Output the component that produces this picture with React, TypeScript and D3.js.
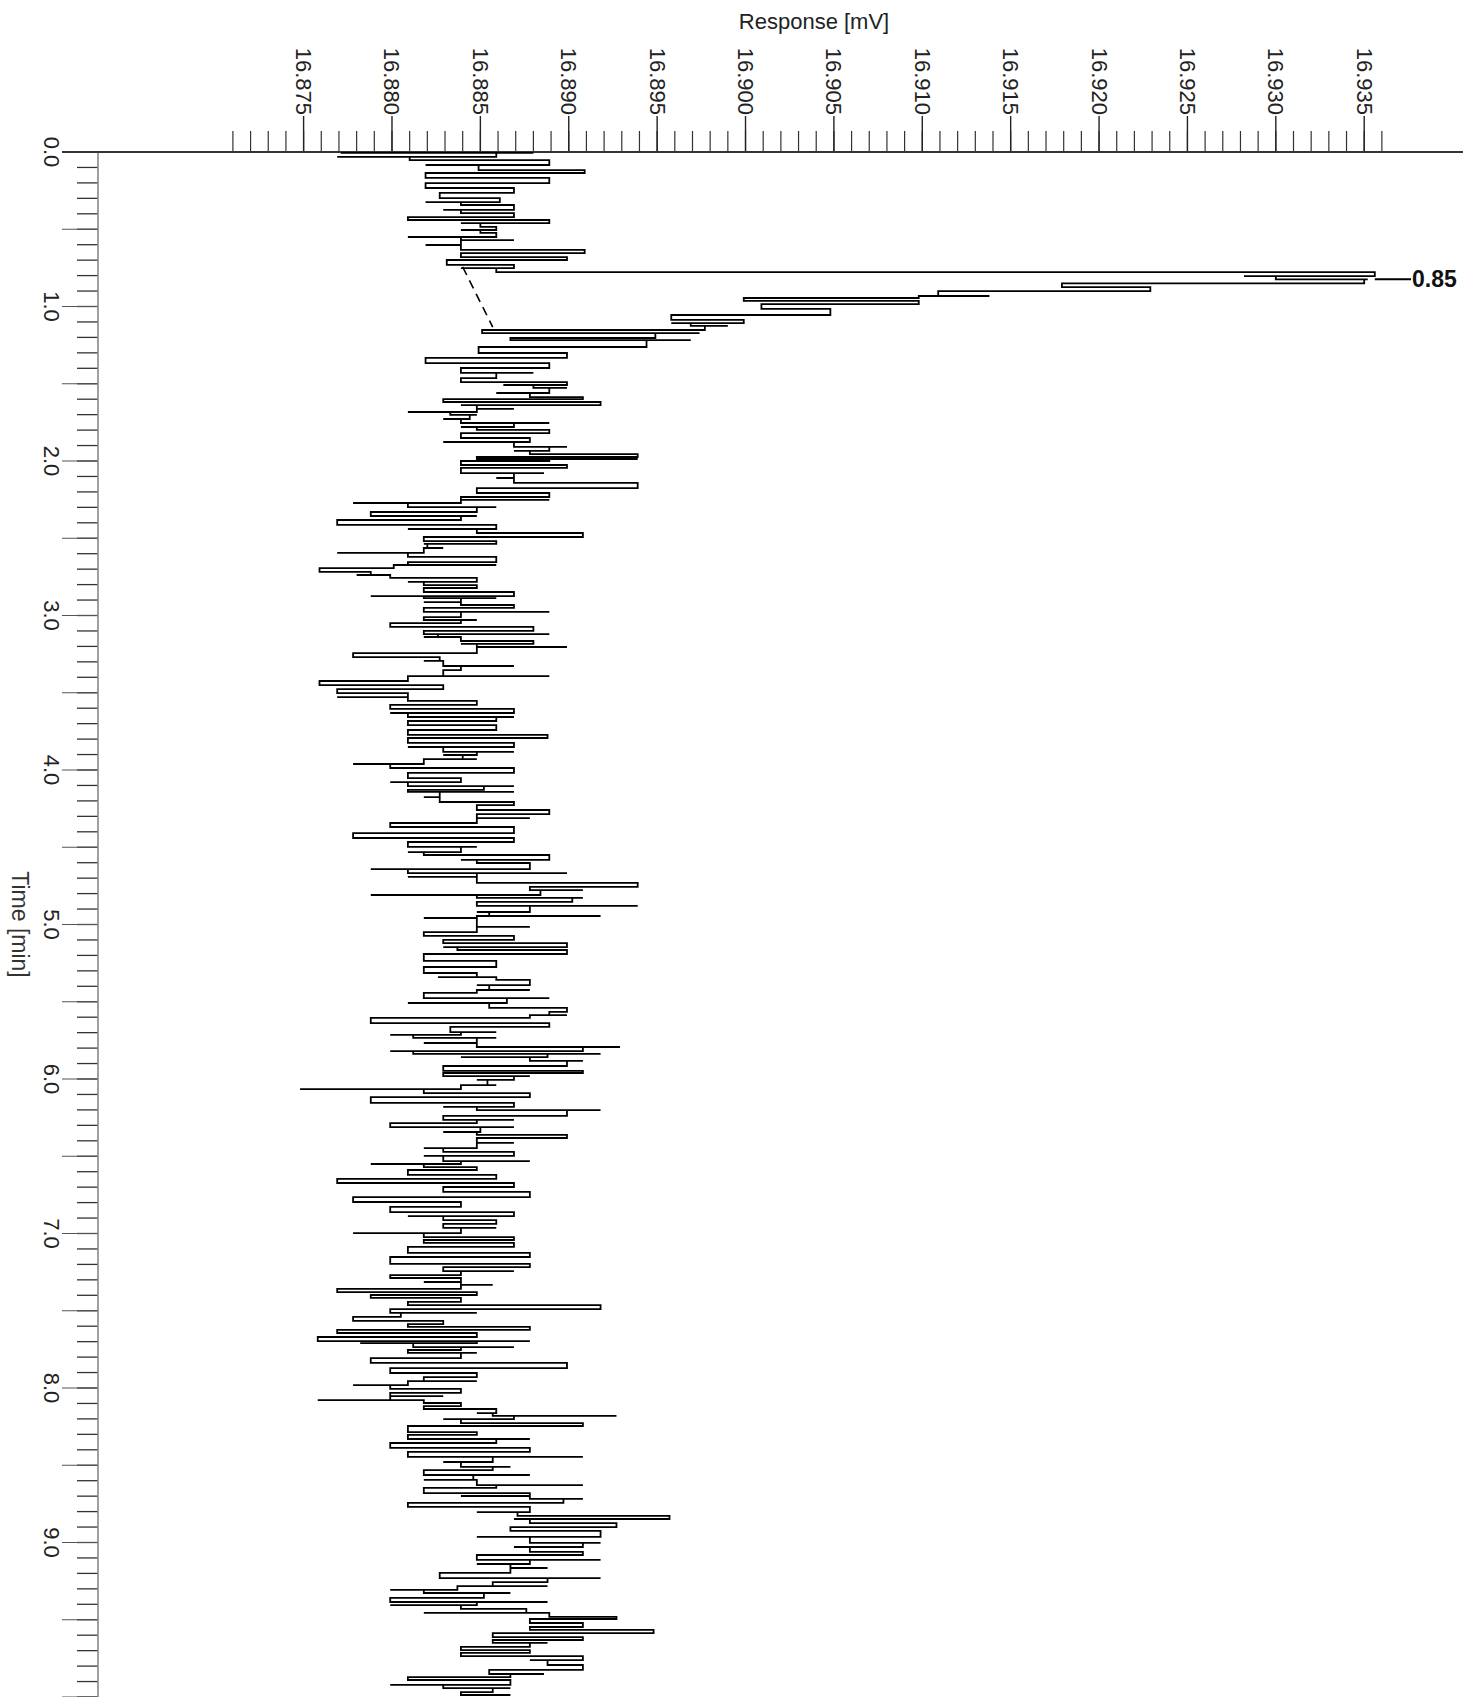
import React from "react";
import * as d3 from "d3";

const W = 1463;
const H = 1697;

// Axis ticks
const responseMajorTicks = [16.875, 16.88, 16.885, 16.89, 16.895, 16.9, 16.905, 16.91, 16.915, 16.92, 16.925, 16.93, 16.935];
const responseMajorLabels = ["16.875", "16.880", "16.885", "16.890", "16.895", "16.900", "16.905", "16.910", "16.915", "16.920", "16.925", "16.930", "16.935"];
const responseMinorTicks = d3.range(16871, 16937).map((v) => v / 1000);
const timeMinorTicks = d3.range(0, 101).map((v) => v / 10);
const timeMajorTicks = d3.range(0, 21).map((v) => v / 2);
const timeLabelValues = [0, 1, 2, 3, 4, 5, 6, 7, 8, 9];
const timeLabels = ["0.0", "1.0", "2.0", "3.0", "4.0", "5.0", "6.0", "7.0", "8.0", "9.0"];

// Peak annotation
const peakTime = 0.85;
const peakLabel = "0.85";
const peakValue = 16.9356;

// Dashed peak baseline [time, response]
const baselineStart: [number, number] = [0.744, 16.884];
const baselineEnd: [number, number] = [1.133, 16.8857];

// Trace rows: [time (min), left response, right response] (mV)
const traceEarly: [number, number, number][] = [
  [0.006, 16.8771, 16.888], [0.032, 16.8769, 16.8859], [0.052, 16.881, 16.8859], [0.084, 16.8819, 16.8889],
  [0.117, 16.8849, 16.8889], [0.136, 16.8859, 16.8909], [0.168, 16.8819, 16.888], [0.201, 16.8839, 16.8889],
  [0.233, 16.8819, 16.8869], [0.265, 16.8829, 16.8869], [0.298, 16.8827, 16.8847], [0.324, 16.8819, 16.8861],
  [0.343, 16.8839, 16.8869], [0.375, 16.8829, 16.8869], [0.395, 16.8839, 16.8869], [0.421, 16.8809, 16.8869],
  [0.44, 16.8809, 16.8869], [0.46, 16.8839, 16.8889], [0.485, 16.885, 16.8859], [0.505, 16.8839, 16.8859],
  [0.524, 16.885, 16.8859], [0.55, 16.8809, 16.8859], [0.57, 16.8839, 16.8869], [0.602, 16.8819, 16.8839],
  [0.634, 16.8839, 16.885], [0.654, 16.8839, 16.8909], [0.68, 16.8839, 16.8889], [0.699, 16.8843, 16.8899],
  [0.731, 16.8831, 16.8869], [0.751, 16.8839, 16.8869],
];

const tracePeak: [number, number, number][] = [
  [0.777, 16.8859, 16.9304], [0.803, 16.9282, 16.9356], [0.825, 16.93, 16.9352], [0.85, 16.9229, 16.935],
  [0.874, 16.9179, 16.922], [0.9, 16.9136, 16.9229], [0.932, 16.9109, 16.9138], [0.945, 16.9005, 16.9098],
  [0.964, 16.8999, 16.908], [0.984, 16.9024, 16.9098], [1.016, 16.9009, 16.9039], [1.055, 16.9008, 16.9048],
  [1.087, 16.8958, 16.899], [1.107, 16.8958, 16.8999], [1.126, 16.8969, 16.899], [1.152, 16.8918, 16.8977],
  [1.172, 16.8851, 16.8974], [1.204, 16.8918, 16.8949], [1.217, 16.8867, 16.8969], [1.262, 16.8918, 16.8944],
];

const traceA: [number, number, number][] = [
  [1.301, 16.8849, 16.8899], [1.333, 16.8867, 16.8899], [1.366, 16.8819, 16.8889], [1.398, 16.8839, 16.8889],
  [1.43, 16.8839, 16.888], [1.463, 16.8839, 16.8859], [1.489, 16.8839, 16.8863], [1.508, 16.8863, 16.8899],
  [1.527, 16.888, 16.8899], [1.56, 16.8859, 16.8889], [1.586, 16.8878, 16.8899], [1.599, 16.8869, 16.8908],
  [1.618, 16.8829, 16.8878], [1.638, 16.8839, 16.8918], [1.663, 16.8848, 16.8869], [1.683, 16.8809, 16.8848],
  [1.702, 16.8833, 16.8848], [1.728, 16.8829, 16.8844], [1.754, 16.8839, 16.8889], [1.78, 16.8839, 16.8869],
  [1.799, 16.8848, 16.8869], [1.819, 16.8848, 16.8889], [1.851, 16.8839, 16.8878], [1.877, 16.8829, 16.8878],
  [1.909, 16.8869, 16.8899], [1.935, 16.8869, 16.8889], [1.955, 16.8878, 16.8905], [1.974, 16.8878, 16.8939],
  [1.987, 16.8848, 16.8939], [2.0, 16.8848, 16.8889], [2.026, 16.8839, 16.8889], [2.045, 16.884, 16.8899],
  [2.078, 16.8839, 16.8886], [2.11, 16.8859, 16.8869], [2.142, 16.8869, 16.8908], [2.175, 16.8869, 16.8939],
  [2.207, 16.8848, 16.8889], [2.233, 16.8848, 16.8889], [2.252, 16.8839, 16.8889], [2.272, 16.8778, 16.8839],
  [2.298, 16.8809, 16.8859], [2.33, 16.8809, 16.8848], [2.356, 16.8788, 16.8848], [2.382, 16.8799, 16.8839],
  [2.414, 16.8769, 16.8839], [2.44, 16.8809, 16.8859], [2.466, 16.8848, 16.8889], [2.492, 16.8822, 16.8908],
  [2.518, 16.8818, 16.8859], [2.537, 16.8818, 16.8859], [2.563, 16.882, 16.8829], [2.595, 16.8769, 16.8818],
  [2.621, 16.8809, 16.8818], [2.654, 16.8809, 16.8859], [2.673, 16.8809, 16.8859], [2.693, 16.8759, 16.8801],
  [2.718, 16.8759, 16.8788], [2.738, 16.878, 16.8788], [2.757, 16.8799, 16.8848], [2.783, 16.8809, 16.8848],
  [2.803, 16.8818, 16.8848], [2.822, 16.8818, 16.8848], [2.848, 16.8818, 16.8839], [2.874, 16.8788, 16.8869],
  [2.887, 16.8818, 16.8859], [2.913, 16.8818, 16.8839], [2.932, 16.8839, 16.8869], [2.951, 16.8818, 16.8869],
  [2.977, 16.8818, 16.8889], [3.01, 16.8818, 16.8839], [3.029, 16.8818, 16.8848], [3.049, 16.8823, 16.8839],
  [3.074, 16.8799, 16.888], [3.1, 16.8859, 16.888], [3.12, 16.8818, 16.8889], [3.139, 16.8818, 16.8826],
  [3.165, 16.8839, 16.8848], [3.184, 16.8839, 16.888], [3.204, 16.8848, 16.8899], [3.243, 16.8809, 16.8848],
  [3.269, 16.8778, 16.8827], [3.294, 16.8818, 16.8827], [3.327, 16.8829, 16.8869], [3.353, 16.8829, 16.8839],
  [3.392, 16.8829, 16.8889], [3.424, 16.8788, 16.8809], [3.45, 16.8759, 16.8809], [3.476, 16.8809, 16.8829],
  [3.502, 16.8769, 16.8809], [3.528, 16.8769, 16.8809], [3.553, 16.8809, 16.8848], [3.579, 16.8799, 16.8848],
  [3.605, 16.8799, 16.8859], [3.631, 16.8799, 16.8869], [3.657, 16.8809, 16.8869], [3.683, 16.8829, 16.8859],
  [3.709, 16.8809, 16.8839], [3.741, 16.8829, 16.8859], [3.773, 16.8809, 16.8859], [3.793, 16.8839, 16.8888],
  [3.825, 16.8809, 16.8848], [3.851, 16.8809, 16.8869], [3.883, 16.8829, 16.8869], [3.903, 16.8829, 16.8848],
  [3.929, 16.884, 16.8848], [3.961, 16.8778, 16.8818], [3.987, 16.8799, 16.8869], [4.019, 16.8818, 16.8869],
  [4.052, 16.8809, 16.8839], [4.078, 16.8799, 16.8839], [4.104, 16.8809, 16.8869], [4.129, 16.8818, 16.8852],
];

const traceB: [number, number, number][] = [
  [4.142, 16.8809, 16.8869], [4.175, 16.8818, 16.8827], [4.207, 16.8827, 16.8848], [4.227, 16.8848, 16.8869],
  [4.259, 16.8848, 16.8878], [4.285, 16.8848, 16.8889], [4.311, 16.8848, 16.8878], [4.343, 16.8831, 16.8848],
  [4.369, 16.8799, 16.8837], [4.408, 16.8799, 16.8869], [4.44, 16.8778, 16.8837], [4.466, 16.8814, 16.8869],
  [4.498, 16.8809, 16.8848], [4.531, 16.8809, 16.8839], [4.55, 16.8818, 16.8839], [4.582, 16.8839, 16.8889],
  [4.602, 16.8848, 16.8869], [4.641, 16.8788, 16.8878], [4.667, 16.8809, 16.8899], [4.692, 16.8809, 16.8848],
  [4.731, 16.8848, 16.8939], [4.757, 16.8878, 16.8939], [4.777, 16.8878, 16.8908], [4.809, 16.8788, 16.8884],
  [4.828, 16.8848, 16.8908], [4.854, 16.8855, 16.8902], [4.88, 16.8848, 16.8939], [4.919, 16.8848, 16.8878],
  [4.945, 16.8855, 16.8918], [4.958, 16.8818, 16.8848], [5.016, 16.8848, 16.8878], [5.049, 16.8839, 16.8848],
  [5.074, 16.8818, 16.8848], [5.1, 16.8848, 16.8869], [5.12, 16.8829, 16.8878], [5.146, 16.8829, 16.8899],
  [5.165, 16.8837, 16.8889], [5.191, 16.8829, 16.8899], [5.236, 16.8818, 16.8859], [5.275, 16.8839, 16.8859],
  [5.314, 16.8818, 16.884], [5.34, 16.8826, 16.8848], [5.359, 16.8859, 16.8878], [5.392, 16.8848, 16.8878],
  [5.424, 16.8855, 16.8878], [5.443, 16.8818, 16.8848], [5.476, 16.8818, 16.8889], [5.508, 16.8809, 16.8865],
  [5.54, 16.8855, 16.8878], [5.566, 16.8889, 16.8899], [5.586, 16.8889, 16.8899], [5.605, 16.8829, 16.8878],
  [5.638, 16.8788, 16.8889], [5.663, 16.8869, 16.8889], [5.696, 16.8833, 16.8859], [5.715, 16.8799, 16.8839],
  [5.734, 16.8812, 16.8859], [5.767, 16.8818, 16.8848], [5.793, 16.8848, 16.8929], [5.819, 16.8799, 16.8908],
  [5.838, 16.8812, 16.8918], [5.858, 16.8839, 16.8888], [5.883, 16.8878, 16.8908], [5.916, 16.8859, 16.8899],
  [5.948, 16.8829, 16.8899], [5.961, 16.8829, 16.8908], [5.981, 16.8829, 16.8878], [6.006, 16.8848, 16.8869],
  [6.039, 16.8854, 16.8859], [6.065, 16.8748, 16.8839], [6.091, 16.8818, 16.8839], [6.117, 16.8839, 16.8878],
  [6.155, 16.8788, 16.8839], [6.181, 16.8829, 16.8869], [6.201, 16.8848, 16.8918], [6.239, 16.8869, 16.8899],
  [6.265, 16.8829, 16.8869], [6.285, 16.8829, 16.8848], [6.311, 16.8799, 16.8869], [6.343, 16.8829, 16.885],
  [6.362, 16.8848, 16.8889], [6.382, 16.8848, 16.8899], [6.414, 16.8848, 16.8869], [6.447, 16.8818, 16.8848],
  [6.472, 16.8829, 16.8848], [6.498, 16.8818, 16.8869], [6.531, 16.8829, 16.8878], [6.55, 16.8788, 16.8839],
  [6.57, 16.8818, 16.8839], [6.589, 16.8829, 16.8848], [6.621, 16.8809, 16.8839], [6.647, 16.8818, 16.8859],
  [6.673, 16.8769, 16.8848], [6.699, 16.8829, 16.8869], [6.731, 16.8829, 16.8839], [6.764, 16.8829, 16.8878],
  [6.796, 16.8778, 16.8839], [6.828, 16.8818, 16.8839], [6.861, 16.8799, 16.8859], [6.887, 16.8809, 16.8869],
  [6.913, 16.8829, 16.8859], [6.938, 16.8829, 16.8859], [6.964, 16.8829, 16.8859], [6.997, 16.8778, 16.8839],
  [7.023, 16.8818, 16.8848], [7.042, 16.8829, 16.8869], [7.061, 16.8818, 16.8848], [7.087, 16.8829, 16.8869],
];

const traceC: [number, number, number][] = [
  [7.126, 16.8809, 16.8869], [7.152, 16.8839, 16.8878], [7.197, 16.8799, 16.8878], [7.217, 16.8829, 16.8878],
  [7.243, 16.8829, 16.8869], [7.269, 16.8799, 16.8839], [7.288, 16.8799, 16.8839], [7.314, 16.8818, 16.8839],
  [7.333, 16.8839, 16.8857], [7.359, 16.8788, 16.8839], [7.379, 16.8769, 16.8848], [7.398, 16.8788, 16.8848],
  [7.417, 16.8788, 16.8839], [7.443, 16.8809, 16.8839], [7.463, 16.8809, 16.8848], [7.489, 16.8809, 16.8918],
  [7.514, 16.8799, 16.8848], [7.54, 16.8799, 16.8805], [7.566, 16.8778, 16.8799], [7.586, 16.8809, 16.8829],
  [7.605, 16.8809, 16.8829], [7.624, 16.8769, 16.8878], [7.644, 16.8769, 16.8839], [7.67, 16.8839, 16.8848],
  [7.696, 16.8758, 16.8878], [7.709, 16.8782, 16.8848], [7.735, 16.8812, 16.8869], [7.754, 16.8812, 16.8839],
  [7.773, 16.8809, 16.8848], [7.806, 16.8818, 16.8839], [7.838, 16.8788, 16.8839], [7.871, 16.8839, 16.8899],
  [7.903, 16.8799, 16.8839], [7.929, 16.8818, 16.8848], [7.955, 16.8818, 16.8848], [7.981, 16.8778, 16.8809],
  [8.006, 16.8799, 16.8829], [8.032, 16.8799, 16.8839], [8.052, 16.8799, 16.8829], [8.078, 16.8758, 16.8799],
  [8.097, 16.8818, 16.8823], [8.117, 16.8829, 16.8839], [8.136, 16.8818, 16.8859], [8.162, 16.8848, 16.8859],
  [8.181, 16.8857, 16.8927], [8.201, 16.8829, 16.8869], [8.227, 16.8839, 16.8878], [8.246, 16.8869, 16.8908],
  [8.285, 16.8809, 16.8848], [8.304, 16.8818, 16.8848], [8.33, 16.8809, 16.8878], [8.356, 16.8829, 16.8859],
  [8.388, 16.8799, 16.8867], [8.414, 16.8809, 16.8878], [8.446, 16.8809, 16.8908], [8.479, 16.8829, 16.8857],
  [8.511, 16.8839, 16.8867], [8.531, 16.8839, 16.8857], [8.563, 16.8818, 16.8878], [8.595, 16.8818, 16.8846],
  [8.628, 16.8848, 16.8908], [8.647, 16.8818, 16.8859], [8.68, 16.8818, 16.8857], [8.699, 16.8839, 16.8878],
  [8.718, 16.8878, 16.8908], [8.744, 16.8869, 16.8897], [8.77, 16.8809, 16.8878], [8.803, 16.8848, 16.8878],
  [8.828, 16.8871, 16.8927], [8.848, 16.8869, 16.8957], [8.874, 16.8878, 16.8927], [8.9, 16.8878, 16.8927],
  [8.925, 16.8867, 16.8889], [8.964, 16.8848, 16.8918], [9.003, 16.8878, 16.8918], [9.029, 16.8869, 16.8908],
  [9.061, 16.8878, 16.8908], [9.081, 16.8857, 16.8908], [9.113, 16.8848, 16.8918], [9.139, 16.8848, 16.8878],
  [9.165, 16.8867, 16.8888], [9.197, 16.8848, 16.8867], [9.23, 16.8827, 16.8918], [9.256, 16.8857, 16.8888],
  [9.282, 16.8857, 16.8888], [9.307, 16.8799, 16.8837], [9.327, 16.8818, 16.8867], [9.359, 16.8818, 16.8852],
  [9.385, 16.8799, 16.8888], [9.405, 16.8799, 16.8848], [9.43, 16.8839, 16.8848], [9.456, 16.8818, 16.8876],
  [9.482, 16.8889, 16.8927], [9.495, 16.8878, 16.8927], [9.521, 16.8878, 16.8888], [9.547, 16.8886, 16.8908],
  [9.566, 16.8878, 16.8908], [9.586, 16.8886, 16.8948], [9.612, 16.8857, 16.8878], [9.631, 16.8886, 16.8908],
  [9.65, 16.8857, 16.8888], [9.676, 16.8857, 16.8878], [9.696, 16.8839, 16.8878], [9.715, 16.8857, 16.8878],
  [9.735, 16.8839, 16.8908], [9.761, 16.8878, 16.8908], [9.793, 16.8888, 16.8908], [9.825, 16.8886, 16.8908],
  [9.851, 16.8855, 16.8886], [9.871, 16.8818, 16.8867], [9.89, 16.8809, 16.8848], [9.922, 16.8799, 16.8867],
  [9.942, 16.8829, 16.8867], [9.968, 16.8839, 16.8857], [9.987, 16.8839, 16.8867],
];

const FONT = "'Liberation Sans', Arial, Helvetica, sans-serif";

export default function App() {
  const x = d3.scaleLinear().domain([16.875, 16.935]).range([303.6, 1364.2]);
  const y = d3.scaleLinear().domain([0, 10]).range([152, 1697]);

  const rows = [...traceEarly, ...tracePeak, ...traceA, ...traceB, ...traceC];
  const pts: [number, number][] = [];
  rows.forEach(([t, lo, hi], i) => {
    if (i % 2 === 0) {
      pts.push([t, lo], [t, hi]);
    } else {
      pts.push([t, hi], [t, lo]);
    }
  });
  const line = d3
    .line<[number, number]>()
    .x((d) => x(d[1]))
    .y((d) => y(d[0]))
    .curve(d3.curveStepAfter);
  const tracePath = line(pts) || "";

  const axisY = y(0);
  const axisX = 98;
  const leaderY = y(peakTime) - 4;

  return (
    <svg
      width={W}
      height={H}
      viewBox={`0 0 ${W} ${H}`}
      style={{ position: "absolute", left: 0, top: 0, background: "#fff" }}
    >
      <rect x={0} y={0} width={W} height={H} fill="#fff" />

      {/* Response axis title */}
      <text x={814} y={29} textAnchor="middle" fontFamily={FONT} fontSize={22} fill="#222">
        Response [mV]
      </text>

      {/* Response axis minor ticks */}
      {responseMinorTicks.map((v) => (
        <line key={"rm" + v} x1={x(v)} x2={x(v)} y1={axisY} y2={axisY - 21} stroke="#333" strokeWidth={1.2} />
      ))}
      {/* Response axis major ticks + labels */}
      {responseMajorTicks.map((v, i) => (
        <g key={"rM" + v}>
          <line x1={x(v)} x2={x(v)} y1={axisY} y2={axisY - 36} stroke="#222" strokeWidth={1.4} />
          <text
            transform={`translate(${x(v)},${axisY - 37}) rotate(90)`}
            textAnchor="end"
            dominantBaseline="central"
            fontFamily={FONT}
            fontSize={22}
            fill="#222"
          >
            {responseMajorLabels[i]}
          </text>
        </g>
      ))}

      {/* Time axis ticks */}
      {timeMinorTicks.map((t) => (
        <line key={"tm" + t} x1={axisX - 21} x2={axisX} y1={y(t)} y2={y(t)} stroke="#333" strokeWidth={1.3} />
      ))}
      {timeMajorTicks.map((t) => (
        <line key={"tM" + t} x1={axisX - 36} x2={axisX} y1={y(t)} y2={y(t)} stroke="#555" strokeWidth={1.1} />
      ))}
      {timeLabelValues.map((t, i) => (
        <text
          key={"tl" + t}
          transform={`translate(51,${y(t)}) rotate(90)`}
          textAnchor="middle"
          dominantBaseline="central"
          fontFamily={FONT}
          fontSize={22}
          fill="#222"
        >
          {timeLabels[i]}
        </text>
      ))}
      <text
        transform={`translate(20,${y(5)}) rotate(90)`}
        textAnchor="middle"
        dominantBaseline="central"
        fontFamily={FONT}
        fontSize={23}
        fill="#333"
      >
        Time [min]
      </text>

      {/* Axis lines */}
      <line x1={axisX} x2={axisX} y1={axisY} y2={H} stroke="#888" strokeWidth={1.6} />
      <line x1={62} x2={W} y1={axisY} y2={axisY} stroke="#333" strokeWidth={2} />

      {/* Trace */}
      <path d={tracePath} fill="none" stroke="#000" strokeWidth={1.8} />

      {/* Dashed baseline under the peak */}
      <line
        x1={x(baselineStart[1])}
        y1={y(baselineStart[0])}
        x2={x(baselineEnd[1])}
        y2={y(baselineEnd[0])}
        stroke="#000"
        strokeWidth={1.6}
        strokeDasharray="9 6"
      />

      {/* Peak label */}
      <line x1={x(peakValue)} x2={1411} y1={leaderY} y2={leaderY} stroke="#000" strokeWidth={2} />
      <text x={1412} y={leaderY} dominantBaseline="central" fontFamily={FONT} fontSize={23} fontWeight="bold" fill="#111">
        {peakLabel}
      </text>
    </svg>
  );
}
